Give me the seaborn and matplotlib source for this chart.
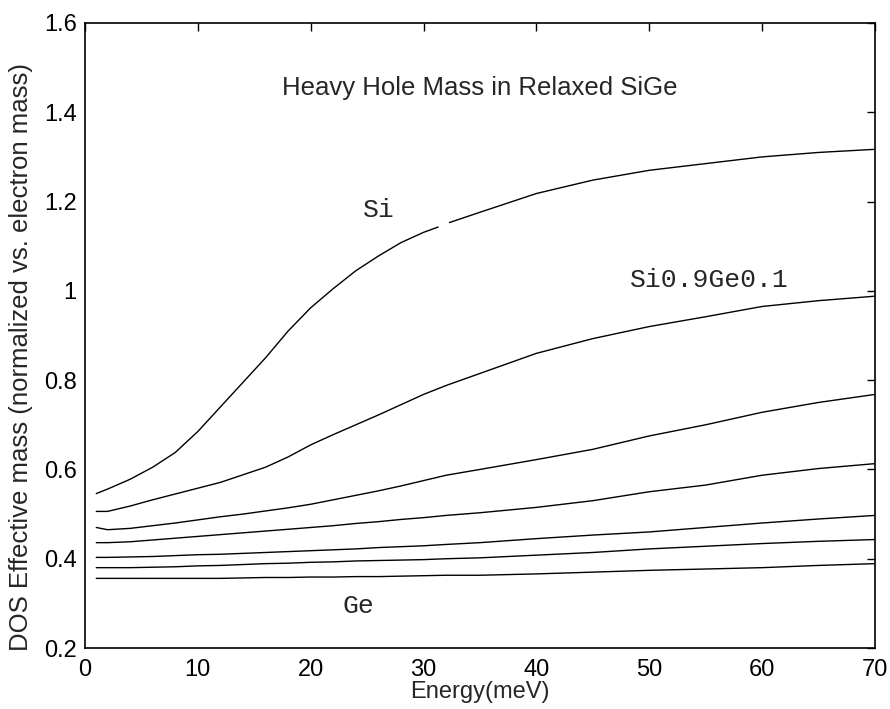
import numpy as np
import pandas as pd
import matplotlib
matplotlib.use("Agg")
import matplotlib.pyplot as plt
import seaborn as sns

# ---- data ----
energy = [1, 2, 4, 6, 8, 10, 12, 14, 16, 18, 20, 22, 24, 26, 28, 30, 32, 35,
          40, 45, 50, 55, 60, 65, 70]

si_energy = [1, 2, 4, 6, 8, 10, 12, 14, 16, 18, 20, 22, 24, 26, 28, 30, 31.3,
             31.8, 32.3, 35, 40, 45, 50, 55, 60, 65, 70]
si_mass = [0.546, 0.556, 0.578, 0.605, 0.638, 0.685, 0.740, 0.795, 0.850,
           0.910, 0.962, 1.005, 1.045, 1.078, 1.108, 1.131, 1.143, np.nan,
           1.153, 1.176, 1.218, 1.248, 1.270, 1.285, 1.300, 1.310, 1.317]

si09_mass = [0.506, 0.506, 0.518, 0.532, 0.545, 0.558, 0.571, 0.588, 0.605,
             0.628, 0.655, 0.678, 0.700, 0.722, 0.745, 0.768, 0.788, 0.815,
             0.860, 0.893, 0.920, 0.942, 0.965, 0.978, 0.988]
c3_mass = [0.470, 0.465, 0.468, 0.474, 0.480, 0.487, 0.494, 0.500, 0.507,
           0.514, 0.522, 0.532, 0.542, 0.552, 0.563, 0.575, 0.587, 0.600,
           0.622, 0.645, 0.675, 0.700, 0.728, 0.750, 0.768]
c4_mass = [0.436, 0.436, 0.438, 0.442, 0.446, 0.450, 0.454, 0.458, 0.462,
           0.466, 0.470, 0.474, 0.479, 0.483, 0.488, 0.492, 0.497, 0.503,
           0.515, 0.530, 0.550, 0.565, 0.587, 0.602, 0.613]
c5_mass = [0.403, 0.403, 0.404, 0.405, 0.407, 0.409, 0.410, 0.412, 0.414,
           0.416, 0.418, 0.420, 0.422, 0.425, 0.427, 0.429, 0.432, 0.436,
           0.445, 0.453, 0.460, 0.470, 0.480, 0.489, 0.497]
c6_mass = [0.380, 0.380, 0.380, 0.381, 0.382, 0.384, 0.385, 0.387, 0.389,
           0.390, 0.392, 0.393, 0.395, 0.396, 0.397, 0.398, 0.400, 0.402,
           0.408, 0.414, 0.422, 0.428, 0.434, 0.439, 0.443]
ge_mass = [0.356, 0.356, 0.356, 0.356, 0.356, 0.356, 0.356, 0.357, 0.358,
           0.358, 0.359, 0.359, 0.360, 0.360, 0.361, 0.362, 0.363, 0.363,
           0.366, 0.370, 0.374, 0.377, 0.380, 0.385, 0.389]

series_names = ["Si0.9Ge0.1", "c3", "c4", "c5", "c6", "Ge"]
series_vals = [si09_mass, c3_mass, c4_mass, c5_mass, c6_mass, ge_mass]

title_text = "Heavy Hole Mass in Relaxed SiGe"
xlabel_text = "Energy(meV)"
ylabel_text = "DOS Effective mass (normalized vs. electron mass)"
xticks = [0, 10, 20, 30, 40, 50, 60, 70]
yticks = [0.2, 0.4, 0.6, 0.8, 1.0, 1.2, 1.4, 1.6]
ytick_labels = ["0.2", "0.4", "0.6", "0.8", "1", "1.2", "1.4", "1.6"]

# ---- build long table ----
rows = []
for name, vals in zip(series_names, series_vals):
    for e, v in zip(energy, vals):
        rows.append({"energy": e, "mass": v, "series": name})
df = pd.DataFrame(rows)
df_si = pd.DataFrame({"energy": si_energy, "mass": si_mass})

sns.set_theme(style="white")
sans = ["Liberation Sans Narrow", "Liberation Sans", "DejaVu Sans"]
plt.rcParams["font.family"] = sans

fig = plt.figure(figsize=(8.9, 7.09), dpi=100)
ax = fig.add_axes([0.0955, 0.086, 0.8875, 0.8816])

sns.lineplot(data=df, x="energy", y="mass", units="series", estimator=None,
             color="black", linewidth=1.0, ax=ax, legend=False, sort=False)
ax.plot(df_si["energy"], df_si["mass"], color="black", linewidth=1.0)

ax.set_xlim(0, 70)
ax.set_ylim(0.2, 1.6)
ax.set_xticks(xticks)
ax.set_xticklabels([str(t) for t in xticks])
ax.set_yticks(yticks)
ax.set_yticklabels(ytick_labels)
ax.tick_params(direction="in", length=6, width=1, top=True, right=True,
               labelsize=17, colors="black")
ax.tick_params(axis="x", pad=8)
ax.tick_params(axis="y", pad=6)
for s in ax.spines.values():
    s.set_visible(True)
    s.set_color("black")
    s.set_linewidth(1.2)

ax.set_xlabel(xlabel_text, fontsize=17)
ax.xaxis.set_label_coords(0.5, -0.052)
ax.set_ylabel(ylabel_text, fontsize=18.5)
ax.yaxis.set_label_coords(-0.066, 0.466)

ax.text(35, 1.454, title_text, ha="center", va="center", fontsize=18.5)
mono = ["Liberation Mono", "DejaVu Sans Mono"]
ax.text(26.0, 1.181, "Si", ha="center", va="center", fontsize=19, family=mono)
ax.text(55.3, 1.024, "Si0.9Ge0.1", ha="center", va="center", fontsize=19, family=mono)
ax.text(24.2, 0.295, "Ge", ha="center", va="center", fontsize=19, family=mono)

fig.savefig("out.png", dpi=100, facecolor="white")
